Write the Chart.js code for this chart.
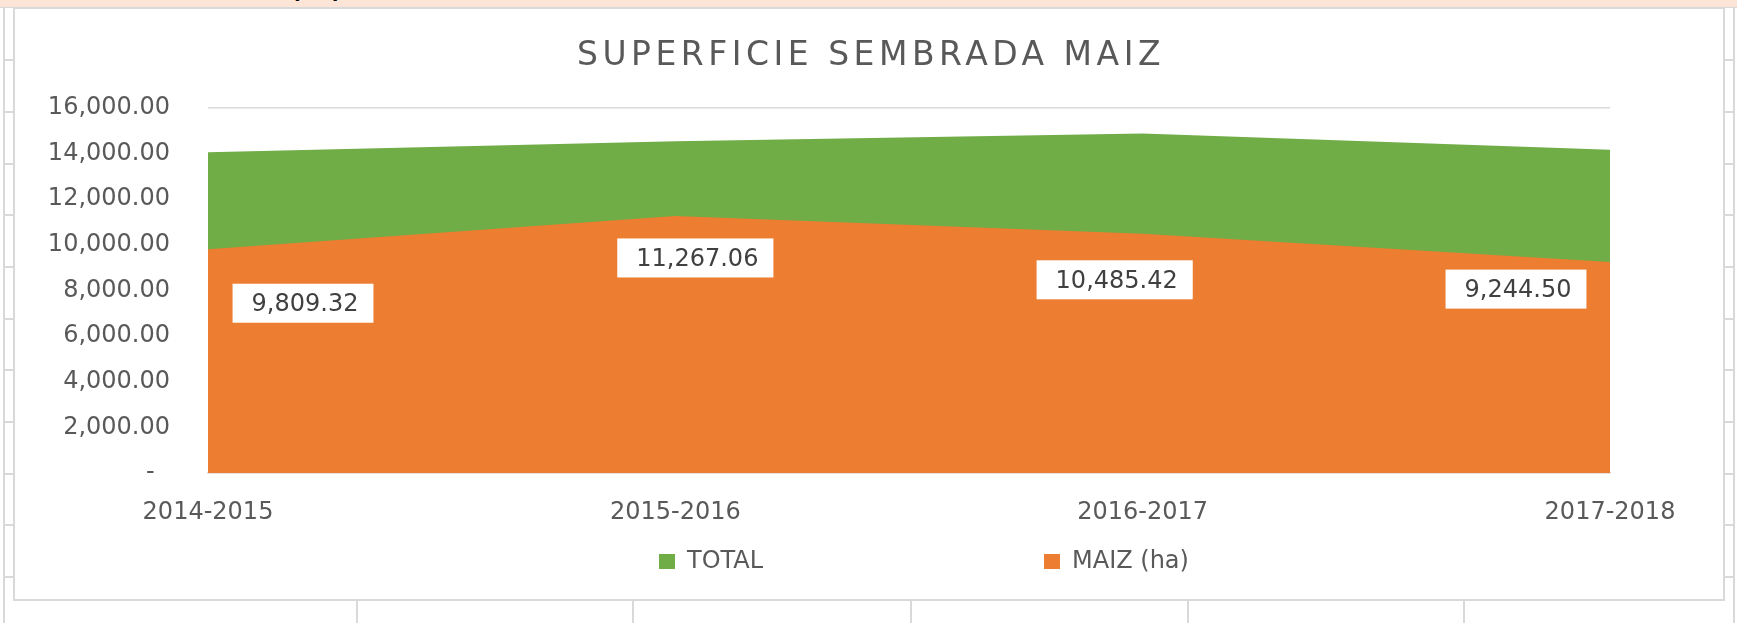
<!DOCTYPE html>
<html lang="es">
<head>
  <meta charset="UTF-8" />
  <title>Superficie sembrada maiz</title>
  <script src="https://cdn.jsdelivr.net/npm/chart.js@4.4.0/dist/chart.umd.min.js"></script>
  <style>
    html, body {
      margin: 0;
      padding: 0;
    }

    body {
      width: 1737px;
      height: 623px;
      position: relative;
      overflow: hidden;
      background: #fff;
      font-family: "DejaVu Sans", sans-serif;
    }

    /* the sheet row above the chart */
    .strip {
      position: absolute;
      left: 0;
      top: 0;
      width: 1737px;
      height: 7px;
      background: #fce4d6;
      border-bottom: 1px solid #d9d9d9;
      overflow: hidden;
    }

    .strip span {
      position: absolute;
      left: 291px;
      top: -22px;
      font: bold 22px "DejaVu Sans", sans-serif;
      color: #000;
    }

    .cell {
      position: absolute;
      background: #d9d9d9;
    }

    .chart-box {
      position: absolute;
      left: 13px;
      top: 7px;
      width: 1712px;
      height: 594px;
      box-sizing: border-box;
      border: 2px solid #d9d9d9;
      background: #fff;
    }

    #maizChart {
      position: absolute;
      left: 0;
      top: 0;
      z-index: 2;
    }
  </style>
</head>
<body>

  <div class="strip"><span>(ha)</span></div>
  <div class="chart-box"></div>
  <canvas id="maizChart" width="1737" height="623"></canvas>

  <script>
    const seasons = ['2014-2015', '2015-2016', '2016-2017', '2017-2018'];
    const totalHa = [14060, 14540, 14880, 14170];
    const maizHa = [9809.32, 11267.06, 10485.42, 9244.50];
    const yMax = 16000;
    const yStep = 2000;
    const chartTitle = 'SUPERFICIE SEMBRADA MAIZ';

    const GREEN = '#70ad47';
    const ORANGE = '#ed7d31';
    const TEXT = '#595959';
    const FONT = '"DejaVu Sans", sans-serif';

    // spreadsheet cell borders around the chart (decoration only)
    const rowLines = [59, 111, 163, 214, 266, 318, 369, 421, 473, 524, 576];
    const colLines = [356, 632, 910, 1187, 1463];
    function addCell(l, t, w, h) {
      const d = document.createElement('div');
      d.className = 'cell';
      d.style.cssText = `left:${l}px;top:${t}px;width:${w}px;height:${h}px`;
      document.body.appendChild(d);
    }
    addCell(3, 8, 2, 615);
    addCell(1733, 8, 2, 615);
    rowLines.forEach(y => { addCell(3, y, 11, 2); addCell(1724, y, 11, 2); });
    colLines.forEach(x => addCell(x, 601, 2, 22));

    const fmt = v => v.toLocaleString('en-US', { minimumFractionDigits: 2, maximumFractionDigits: 2 });

    // where each value box sits, relative to its point
    const labelShift = [[95, 54], [20, 42], [-28, 46], [-94, 27]];

    const valueLabels = {
      id: 'valueLabels',
      afterDatasetsDraw(chart) {
        const ctx = chart.ctx;
        const meta = chart.getDatasetMeta(1);
        ctx.save();
        ctx.font = `24px ${FONT}`;
        ctx.textAlign = 'center';
        ctx.textBaseline = 'middle';
        meta.data.forEach((pt, i) => {
          const text = fmt(maizHa[i]);
          const w = ctx.measureText(text).width + 34;
          const h = 39;
          const cx = pt.x + labelShift[i][0];
          const cy = pt.y + labelShift[i][1];
          ctx.fillStyle = '#fff';
          ctx.fillRect(cx - w / 2, cy - h / 2, w, h);
          ctx.fillStyle = '#404040';
          ctx.fillText(text, cx + 2, cy + 2);
        });
        ctx.restore();
      }
    };

    // title with wide letter spacing, like the Excel one
    const spacedTitle = {
      id: 'spacedTitle',
      afterDraw(chart) {
        const ctx = chart.ctx;
        ctx.save();
        ctx.font = `33px ${FONT}`;
        ctx.letterSpacing = '4.5px';
        ctx.fillStyle = TEXT;
        ctx.textAlign = 'center';
        ctx.textBaseline = 'middle';
        ctx.fillText(chartTitle, 871, 56);
        ctx.restore();
      }
    };

    // legend with the wide gap between its two entries
    const legendX = [659, 1044];
    const wideLegend = {
      id: 'wideLegend',
      afterDraw(chart) {
        const ctx = chart.ctx;
        ctx.save();
        ctx.font = `24px ${FONT}`;
        ctx.textAlign = 'left';
        ctx.textBaseline = 'middle';
        chart.data.datasets.forEach((ds, i) => {
          ctx.fillStyle = ds.backgroundColor;
          ctx.fillRect(legendX[i], 554, 16, 15);
          ctx.fillStyle = TEXT;
          ctx.fillText(ds.label, legendX[i] + 28, 562);
        });
        ctx.restore();
      }
    };

    const ctx = document.getElementById('maizChart').getContext('2d');

    const maizChart = new Chart(ctx, {
      type: 'line',
      data: {
        labels: seasons,
        datasets: [{
          label: 'TOTAL',
          data: totalHa,
          backgroundColor: GREEN,
          borderColor: 'transparent',
          borderWidth: 0,
          pointRadius: 0,
          fill: 'origin',
          order: 1
        }, {
          label: 'MAIZ (ha)',
          data: maizHa,
          backgroundColor: ORANGE,
          borderColor: 'transparent',
          borderWidth: 0,
          pointRadius: 0,
          fill: 'origin',
          order: 0
        }]
      },
      options: {
        responsive: false,
        animation: false,
        layout: {
          padding: { left: 48, right: 127, top: 108, bottom: 100 }
        },
        scales: {
          x: {
            offset: false,
            grid: { display: false },
            border: { display: true, color: '#d9d9d9', width: 1.5 },
            ticks: {
              color: TEXT,
              font: { family: FONT, size: 24 },
              padding: 17,
              maxRotation: 0,
              autoSkip: false
            },
            afterFit(scale) { scale.height = 50; }
          },
          y: {
            min: 0,
            max: yMax,
            grid: { color: '#d9d9d9', lineWidth: 1.5, drawTicks: false },
            border: { display: false },
            ticks: {
              stepSize: yStep,
              color: TEXT,
              font: { family: FONT, size: 24 },
              padding: 38,
              callback: v => v === 0 ? '-  ' : fmt(v)
            },
            afterFit(scale) { scale.width = 160; }
          }
        },
        plugins: {
          legend: { display: false },
          title: { display: false },
          tooltip: { enabled: false }
        }
      },
      plugins: [valueLabels, spacedTitle, wideLegend]
    });
  </script>

</body>
</html>
